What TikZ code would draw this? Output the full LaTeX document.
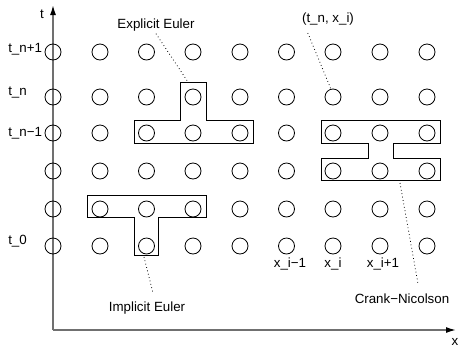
\documentclass[tikz,border=0pt]{standalone}
\usepackage{fontspec}
\setmainfont{Liberation Sans}
\usetikzlibrary{arrows.meta}
\definecolor{axisgray}{RGB}{112,112,112}
\begin{document}
\begin{tikzpicture}[x=0.75pt,y=-0.75pt,
  font=\fontsize{10}{12}\selectfont,
  gridpt/.style={circle,draw,line width=0.6pt,minimum size=12pt,inner sep=0pt},
  region/.style={draw,line width=0.75pt,line join=miter},
  leader/.style={draw,dotted,line width=0.6pt},
  axis/.style={draw=axisgray,line width=1.1pt,
    arrows={-{Latex[length=7.5pt,width=4.5pt,color=black]}}},
  lbl/.style={anchor=base,inner sep=0pt}]
\useasboundingbox (0,0) rectangle (460,347);

% axes
\coordinate (origin) at (53,330);
\coordinate (ttip) at (53,5);
\coordinate (xtip) at (456,330);
\draw[axis] (origin) -- (ttip);
\draw[axis] (origin) -- (xtip);
\node[lbl] (tax) at (42,18) {t};
\node[lbl] (xax) at (455,345) {x};

% grid of mesh points
\foreach \c/\x in {0/53,1/100,2/146.5,3/193,4/240,5/286.5,6/333,7/380,8/427}
  \foreach \r/\y in {1/52,2/97,3/133,4/171,5/209,6/246}
    \node[gridpt] (p\c-\r) at (\x,\y) {};

% time level labels
\node[lbl,anchor=base west] (tn1) at (8,52) {t\_n+1};
\node[lbl,anchor=base west] (tn) at (8,95) {t\_n};
\node[lbl,anchor=base west] (tnm) at (8,136) {t\_n−1};
\node[lbl,anchor=base west] (t0) at (8,244) {t\_0};

% space labels
\node[lbl] (xim) at (290,267) {x\_i−1};
\node[lbl] (xi) at (333,267) {x\_i};
\node[lbl] (xip) at (383,267) {x\_i+1};

% explicit Euler stencil
\draw[region] (180,82) -- (206,82) -- (206,120) -- (253,120) -- (253,143)
  -- (134,143) -- (134,120) -- (180,120) -- cycle;
\coordinate (explTop) at (188,82);
\node[lbl] (expl) at (156,28) {Explicit Euler};
\draw[leader] ([yshift=-2pt]expl.south) -- (explTop);

% implicit Euler stencil
\draw[region] (87,195) -- (206,195) -- (206,217) -- (158,217) -- (158,255)
  -- (134,255) -- (134,217) -- (87,217) -- cycle;
\coordinate (implFoot) at (144,257);
\node[lbl] (impl) at (147,311) {Implicit Euler};
\draw[leader] (implFoot) -- ([xshift=4.5pt,yshift=6pt]impl.north);

% Crank-Nicolson stencil
\draw[region] (321,120) -- (440,120) -- (440,143) -- (393,143) -- (393,158)
  -- (440,158) -- (440,180) -- (321,180) -- (321,158) -- (368,158)
  -- (368,143) -- (321,143) -- cycle;
\coordinate (cnFoot) at (400,183);
\node[lbl] (cn) at (402,303) {Crank−Nicolson};
\draw[leader] (cnFoot) -- ([xshift=12pt,yshift=7pt]cn.north);

% mesh point annotation
\node[lbl] (pt) at (328,22) {(t\_n, x\_i)};
\draw[leader] ([xshift=4.5pt,yshift=-6pt]pt.south west) -- (p6-2.105);
\end{tikzpicture}
\end{document}
